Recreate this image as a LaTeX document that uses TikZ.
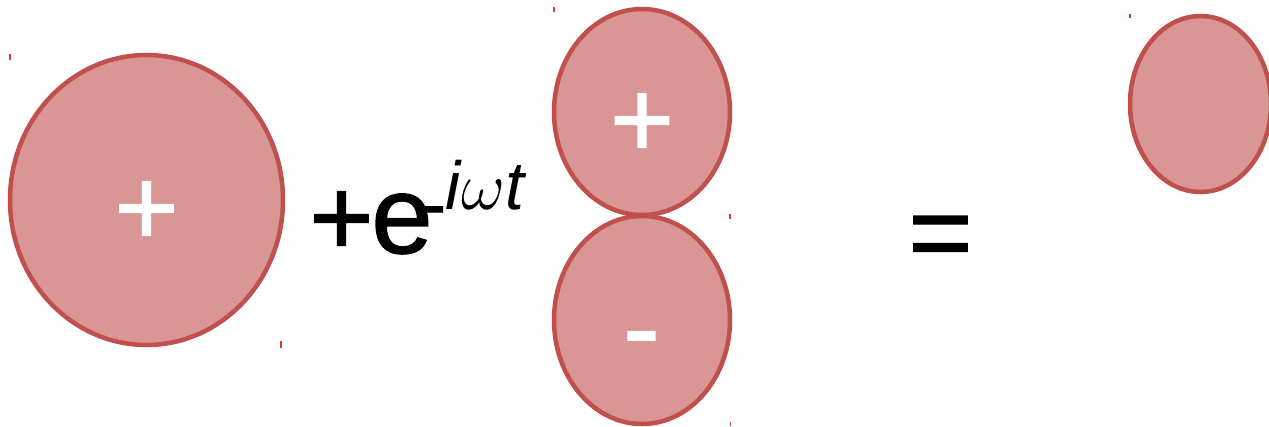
\documentclass[tikz,border=0pt]{standalone}
\usepackage{fix-cm}
\usepackage{fontspec}
\setmainfont{Liberation Sans}
\newfontfamily\heavysans[FakeBold=1.3]{Liberation Sans}
\definecolor{blobfill}{HTML}{D99694}
\definecolor{blobline}{HTML}{C0504D}
\definecolor{tickred}{HTML}{D03A3A}
\tikzset{
  blob/.style={draw=blobline, fill=blobfill, line width=4.5pt},
  tick/.style={draw=tickred, line width=1.2pt},
  sign/.style={inner sep=0pt, anchor=base, text=white, font=\heavysans\fontsize{110}{110}\selectfont},
  bigtext/.style={inner sep=0pt, anchor=base, text=black, font=\heavysans\fontsize{110}{110}\selectfont},
}
\begin{document}
\begin{tikzpicture}[x=1pt,y=-1pt]
\useasboundingbox (0,0) rectangle (1269,426);
% shapes
\path[blob] (146.5,200) ellipse [x radius=136.5, y radius=145];
\path[blob] (642,320) ellipse [x radius=88, y radius=104];
\path[blob] (642,112) ellipse [x radius=88, y radius=103];
\path[blob] (1200.5,104) ellipse [x radius=70.5, y radius=88];
% bounding-box marks
\coordinate (t1) at (10,54);   \draw[tick] (t1) -- ++(0,6);
\coordinate (t2) at (281,341); \draw[tick] (t2) -- ++(0,7);
\coordinate (t3) at (554,7);   \draw[tick] (t3) -- ++(0,5);
\coordinate (t4) at (730,214); \draw[tick] (t4) -- ++(0,5);
\coordinate (t5) at (730.5,422); \draw[tick] (t5) -- ++(0,4);
\coordinate (t6) at (1130,14); \draw[tick] (t6) -- ++(0,4);
% signs inside
\node[sign] (p1) at (146.5,245) {+};
\node[sign] (p2) at (642,157) {+};
\node[sign] (m1) at (641.5,365) {-};
% equation
\node[bigtext] (plus) at (341.5,255) {+};
\node[bigtext] (e) at (402,253) {e};
\node[inner sep=0pt, anchor=base, font=\heavysans\fontsize{70}{70}\selectfont] (dash) at (434,228) {-};
\node[inner sep=0pt, anchor=base west, font=\fontsize{68}{68}\selectfont] (exp) at (445,209) {\textit{i}$\omega$\textit{t}};
\node[bigtext] (eq) at (940.5,270) {=};
\end{tikzpicture}
\end{document}
